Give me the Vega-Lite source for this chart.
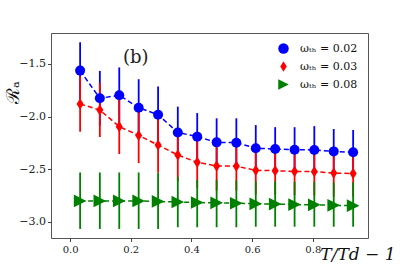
{
  "$schema": "https://vega.github.io/schema/vega-lite/v6.json",
  "width": 317,
  "height": 205,
  "autosize": "none",
  "padding": {"left": 51, "top": 33, "right": 41, "bottom": 35},
  "background": "white",
  "title": {"text": "(b)", "anchor": "start", "frame": "group", "orient": "top", "offset": -43, "dx": 72, "baseline": "middle", "font": "DejaVu Serif", "fontSize": 18, "fontWeight": "normal", "color": "#222"},
  "config": {
    "view": {"stroke": "#555", "strokeWidth": 1},
    "axis": {"grid": false, "domain": false, "tickColor": "#444", "tickSize": 3.5, "tickWidth": 1, "labelFont": "DejaVu Serif", "labelColor": "#222", "titleFont": "DejaVu Serif", "titleColor": "#111", "titleFontWeight": "normal"}
  },
  "data": {
    "values": [
      {"series": "ωₜₕ = 0.02", "grp": "a", "x": 0.033, "y": -1.563, "lo": -1.832, "hi": -1.294},
      {"series": "ωₜₕ = 0.02", "grp": "a", "x": 0.098, "y": -1.826, "lo": -2.086, "hi": -1.566},
      {"series": "ωₜₕ = 0.02", "grp": "a", "x": 0.162, "y": -1.797, "lo": -2.061, "hi": -1.533},
      {"series": "ωₜₕ = 0.02", "grp": "a", "x": 0.226, "y": -1.915, "lo": -2.185, "hi": -1.645},
      {"series": "ωₜₕ = 0.02", "grp": "a", "x": 0.29, "y": -1.982, "lo": -2.249, "hi": -1.715},
      {"series": "ωₜₕ = 0.02", "grp": "a", "x": 0.355, "y": -2.15, "lo": -2.395, "hi": -1.905},
      {"series": "ωₜₕ = 0.02", "grp": "a", "x": 0.419, "y": -2.19, "lo": -2.414, "hi": -1.966},
      {"series": "ωₜₕ = 0.02", "grp": "a", "x": 0.483, "y": -2.244, "lo": -2.472, "hi": -2.016},
      {"series": "ωₜₕ = 0.02", "grp": "a", "x": 0.548, "y": -2.247, "lo": -2.478, "hi": -2.016},
      {"series": "ωₜₕ = 0.02", "grp": "a", "x": 0.612, "y": -2.3, "lo": -2.52, "hi": -2.08},
      {"series": "ωₜₕ = 0.02", "grp": "a", "x": 0.676, "y": -2.307, "lo": -2.514, "hi": -2.1},
      {"series": "ωₜₕ = 0.02", "grp": "a", "x": 0.74, "y": -2.314, "lo": -2.528, "hi": -2.1},
      {"series": "ωₜₕ = 0.02", "grp": "a", "x": 0.805, "y": -2.316, "lo": -2.542, "hi": -2.09},
      {"series": "ωₜₕ = 0.02", "grp": "a", "x": 0.869, "y": -2.33, "lo": -2.543, "hi": -2.117},
      {"series": "ωₜₕ = 0.02", "grp": "a", "x": 0.933, "y": -2.338, "lo": -2.549, "hi": -2.127},
      {"series": "ωₜₕ = 0.03", "grp": "b", "x": 0.033, "y": -1.88, "lo": -2.143, "hi": -1.617},
      {"series": "ωₜₕ = 0.03", "grp": "b", "x": 0.098, "y": -1.937, "lo": -2.194, "hi": -1.68},
      {"series": "ωₜₕ = 0.03", "grp": "b", "x": 0.162, "y": -2.095, "lo": -2.355, "hi": -1.835},
      {"series": "ωₜₕ = 0.03", "grp": "b", "x": 0.226, "y": -2.178, "lo": -2.441, "hi": -1.915},
      {"series": "ωₜₕ = 0.03", "grp": "b", "x": 0.29, "y": -2.27, "lo": -2.532, "hi": -2.008},
      {"series": "ωₜₕ = 0.03", "grp": "b", "x": 0.355, "y": -2.364, "lo": -2.614, "hi": -2.114},
      {"series": "ωₜₕ = 0.03", "grp": "b", "x": 0.419, "y": -2.434, "lo": -2.674, "hi": -2.194},
      {"series": "ωₜₕ = 0.03", "grp": "b", "x": 0.483, "y": -2.468, "lo": -2.703, "hi": -2.233},
      {"series": "ωₜₕ = 0.03", "grp": "b", "x": 0.548, "y": -2.47, "lo": -2.702, "hi": -2.238},
      {"series": "ωₜₕ = 0.03", "grp": "b", "x": 0.612, "y": -2.51, "lo": -2.74, "hi": -2.28},
      {"series": "ωₜₕ = 0.03", "grp": "b", "x": 0.676, "y": -2.513, "lo": -2.741, "hi": -2.285},
      {"series": "ωₜₕ = 0.03", "grp": "b", "x": 0.74, "y": -2.52, "lo": -2.745, "hi": -2.295},
      {"series": "ωₜₕ = 0.03", "grp": "b", "x": 0.805, "y": -2.522, "lo": -2.747, "hi": -2.297},
      {"series": "ωₜₕ = 0.03", "grp": "b", "x": 0.869, "y": -2.536, "lo": -2.758, "hi": -2.314},
      {"series": "ωₜₕ = 0.03", "grp": "b", "x": 0.933, "y": -2.54, "lo": -2.76, "hi": -2.32},
      {"series": "ωₜₕ = 0.08", "grp": "c", "x": 0.033, "y": -2.8, "lo": -3.066, "hi": -2.53},
      {"series": "ωₜₕ = 0.08", "grp": "c", "x": 0.098, "y": -2.8, "lo": -3.066, "hi": -2.53},
      {"series": "ωₜₕ = 0.08", "grp": "c", "x": 0.162, "y": -2.8, "lo": -3.066, "hi": -2.53},
      {"series": "ωₜₕ = 0.08", "grp": "c", "x": 0.226, "y": -2.8, "lo": -3.066, "hi": -2.53},
      {"series": "ωₜₕ = 0.08", "grp": "c", "x": 0.29, "y": -2.805, "lo": -3.066, "hi": -2.535},
      {"series": "ωₜₕ = 0.08", "grp": "c", "x": 0.355, "y": -2.81, "lo": -3.05, "hi": -2.57},
      {"series": "ωₜₕ = 0.08", "grp": "c", "x": 0.419, "y": -2.815, "lo": -3.05, "hi": -2.6},
      {"series": "ωₜₕ = 0.08", "grp": "c", "x": 0.483, "y": -2.818, "lo": -3.05, "hi": -2.6},
      {"series": "ωₜₕ = 0.08", "grp": "c", "x": 0.548, "y": -2.822, "lo": -3.05, "hi": -2.605},
      {"series": "ωₜₕ = 0.08", "grp": "c", "x": 0.612, "y": -2.828, "lo": -3.045, "hi": -2.615},
      {"series": "ωₜₕ = 0.08", "grp": "c", "x": 0.676, "y": -2.83, "lo": -3.045, "hi": -2.615},
      {"series": "ωₜₕ = 0.08", "grp": "c", "x": 0.74, "y": -2.835, "lo": -3.045, "hi": -2.62},
      {"series": "ωₜₕ = 0.08", "grp": "c", "x": 0.805, "y": -2.837, "lo": -3.045, "hi": -2.62},
      {"series": "ωₜₕ = 0.08", "grp": "c", "x": 0.869, "y": -2.842, "lo": -3.045, "hi": -2.625},
      {"series": "ωₜₕ = 0.08", "grp": "c", "x": 0.933, "y": -2.845, "lo": -3.045, "hi": -2.625}
    ]
  },
  "encoding": {
    "x": {"field": "x", "type": "quantitative", "scale": {"domain": [-0.063, 0.982], "nice": false, "zero": false},
      "axis": {"values": [0, 0.2, 0.4, 0.6, 0.8], "format": ".1f", "labelFontSize": 10, "labelPadding": 3, "title": "T/Td − 1", "titleFontSize": 17, "titleFontStyle": "italic", "titleAnchor": null, "titleAlign": "right", "titleBaseline": "alphabetic", "titleX": 344, "titleY": 21}}
  },
  "layer": [
    {
      "mark": {"type": "rule", "strokeWidth": 1.8},
      "encoding": {
        "y": {"field": "lo", "type": "quantitative", "scale": {"domain": [-3.152, -1.206], "nice": false, "zero": false},
          "axis": {"values": [-3.0, -2.5, -2.0, -1.5], "format": ".1f", "labelFontSize": 11, "labelPadding": 2, "title": "ℛₐ", "titleFontSize": 18, "titleAnchor": null, "titleAlign": "center", "titleBaseline": "middle", "titleX": -38, "titleY": 59}},
        "y2": {"field": "hi"},
        "color": {"field": "grp", "type": "nominal", "scale": {"domain": ["a", "b", "c"], "range": ["#0000ff", "#ff0000", "#008000"]}, "legend": null}
      }
    },
    {
      "mark": {"type": "line", "strokeWidth": 1.5, "strokeDash": [5, 3]},
      "encoding": {
        "y": {"field": "y", "type": "quantitative"},
        "stroke": {"field": "grp", "type": "nominal", "scale": {"domain": ["a", "b", "c"], "range": ["#0000ff", "#ff0000", "#008000"]}, "legend": null}
      }
    },
    {
      "mark": {"type": "point", "filled": true, "opacity": 1, "strokeWidth": 0},
      "encoding": {
        "y": {"field": "y", "type": "quantitative"},
        "fill": {"field": "series", "type": "nominal", "scale": {"domain": ["ωₜₕ = 0.02", "ωₜₕ = 0.03", "ωₜₕ = 0.08"], "range": ["#0000ff", "#ff0000", "#008000"]},
          "legend": {"orient": "top-right", "offset": 10, "title": null, "symbolSize": 110, "symbolOpacity": 1, "symbolStrokeWidth": 0, "labelFont": "DejaVu Serif", "labelFontSize": 11, "labelColor": "#111", "labelOffset": 11, "rowPadding": 6}},
        "shape": {"field": "series", "type": "nominal", "scale": {"domain": ["ωₜₕ = 0.02", "ωₜₕ = 0.03", "ωₜₕ = 0.08"], "range": ["circle", "M0,-1L0.62,0L0,1L-0.62,0Z", "M1,0L-1,1L-1,-1Z"]},
          "legend": {"orient": "top-right", "offset": 10, "title": null, "symbolSize": 110, "symbolOpacity": 1, "symbolStrokeWidth": 0, "labelFont": "DejaVu Serif", "labelFontSize": 11, "labelColor": "#111", "labelOffset": 11, "rowPadding": 6}},
        "size": {"field": "grp", "type": "nominal", "scale": {"domain": ["a", "b", "c"], "range": [100, 160, 110]}, "legend": null}
      }
    }
  ]
}
